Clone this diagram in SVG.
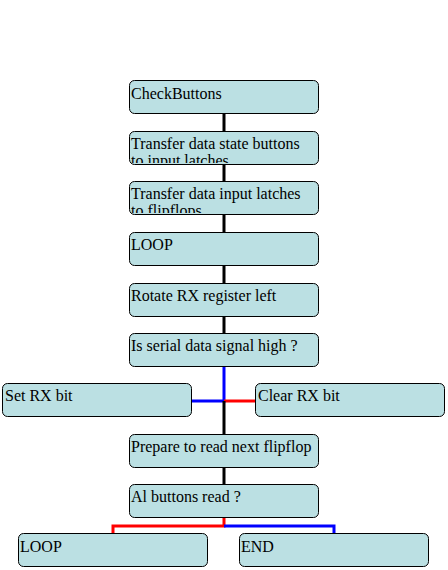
<svg xmlns="http://www.w3.org/2000/svg" width="448" height="570" viewBox="0 0 448 570">
<style>
.box{fill:#bbe0e3;stroke:#000;stroke-width:1}
.k{stroke:#000;stroke-width:3;fill:none}
.b{stroke:#0000ff;stroke-width:3;fill:none}
.r{stroke:#ff0000;stroke-width:3;fill:none}
.t{font-family:'Liberation Serif','Times New Roman',serif;font-size:16px;fill:#000}
</style>
<defs>
<clipPath id="c2"><rect x="129" y="131" width="189" height="32"/></clipPath>
<clipPath id="c3"><rect x="129" y="181" width="189" height="32"/></clipPath>
</defs>
<g id="connectors">
<path class="k" d="M224 113V131M224 164V181M224 214V232M224 265V283M224 316V333"/>
<path class="b" d="M224 366V401H192"/>
<path class="r" d="M224 401H255"/>
<path class="k" d="M224 401V434M224 467V484"/>
<path class="r" d="M224 517V526H113V533"/>
<path class="b" d="M224 526H334V533"/>
</g>
<g id="n1"><rect class="box" x="129.5" y="80.5" width="189" height="33" rx="5"/><text class="t" x="131" y="99">CheckButtons</text></g>
<g id="n2"><rect class="box" x="129.5" y="131.5" width="189" height="33" rx="5"/><g clip-path="url(#c2)"><text class="t" x="131" y="149">Transfer data state buttons</text><text class="t" x="131" y="166">to input latches</text></g></g>
<g id="n3"><rect class="box" x="129.5" y="181.5" width="189" height="33" rx="5"/><g clip-path="url(#c3)"><text class="t" x="131" y="199">Transfer data input latches</text><text class="t" x="131" y="216">to flipflops</text></g></g>
<g id="n4"><rect class="box" x="129.5" y="232.5" width="189" height="33" rx="5"/><text class="t" x="131" y="250">LOOP</text></g>
<g id="n5"><rect class="box" x="129.5" y="283.5" width="189" height="33" rx="5"/><text class="t" x="131" y="301">Rotate RX register left</text></g>
<g id="n6"><rect class="box" x="129.5" y="333.5" width="189" height="33" rx="5"/><text class="t" x="131" y="351">Is serial data signal high ?</text></g>
<g id="n7"><rect class="box" x="2.5" y="383.5" width="189" height="33" rx="5"/><text class="t" x="5" y="401">Set RX bit</text></g>
<g id="n8"><rect class="box" x="255.5" y="383.5" width="189" height="33" rx="5"/><text class="t" x="258" y="401">Clear RX bit</text></g>
<g id="n9"><rect class="box" x="129.5" y="434.5" width="189" height="33" rx="5"/><text class="t" x="131" y="452">Prepare to read next flipflop</text></g>
<g id="n10"><rect class="box" x="129.5" y="484.5" width="189" height="33" rx="5"/><text class="t" x="131" y="502">Al buttons read ?</text></g>
<g id="n11"><rect class="box" x="18.5" y="533.5" width="189" height="33" rx="5"/><text class="t" x="20" y="552">LOOP</text></g>
<g id="n12"><rect class="box" x="239.5" y="533.5" width="189" height="33" rx="5"/><text class="t" x="241" y="552">END</text></g>
</svg>
